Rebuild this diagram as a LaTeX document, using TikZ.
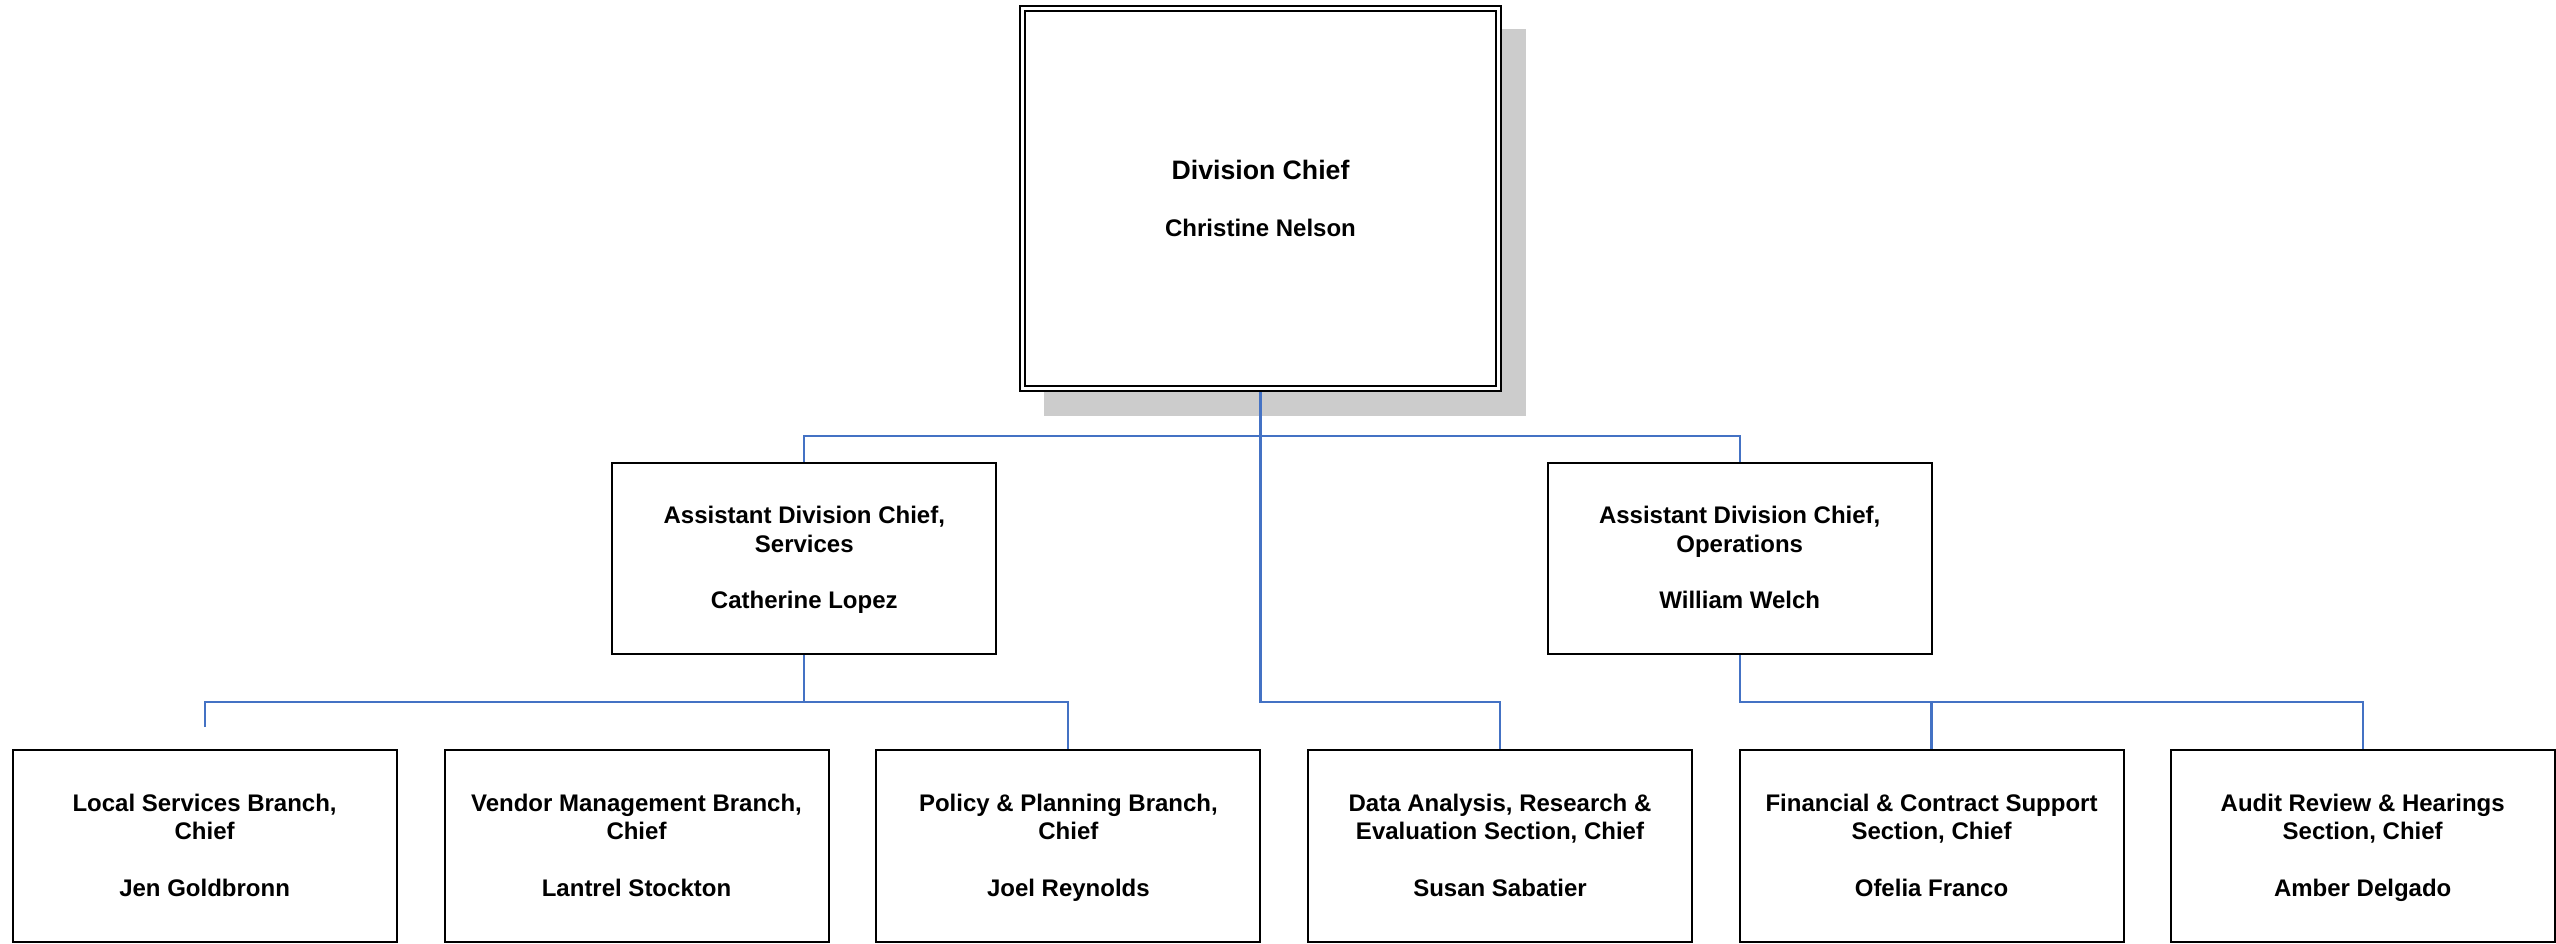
\documentclass[tikz,border=0pt]{standalone}
\usepackage{fontspec}
\setmainfont{Liberation Sans}
\usetikzlibrary{backgrounds}
\definecolor{conn}{RGB}{68,114,196}
\definecolor{shgray}{RGB}{204,204,204}
\newcommand{\lastln}{\vphantom{g}}
\newcommand{\firstln}{\rule{0pt}{15.6pt}}
\begin{document}
\begin{tikzpicture}[x=0.75pt,y=-0.75pt,
  box/.style={draw=black, line width=1.5pt, fill=white, inner sep=0pt, outer sep=0pt,
    align=center, font=\bfseries\fontsize{18}{21.2}\selectfont,
    minimum width=288pt, minimum height=144pt},
  midbox/.style={box, minimum height=143.25pt},
  topbox/.style={box, double=white, double distance=2.25pt,
    minimum width=356.6pt, minimum height=284.8pt},
  link/.style={draw=conn, line width=1.6pt}]
\useasboundingbox (0,0) rectangle (2556,944);

% nodes
\node[topbox] (top) at (1260.5,198.4)
  {{\fontsize{20}{21.6}\selectfont Division Chief}\\[21.7pt]Christine Nelson};
\node[midbox] (svc) at (804.3,558.4)
  {\firstln Assistant Division Chief,\\Services\\[21.2pt]Catherine Lopez\lastln};
\node[midbox] (ops) at (1739.7,558.4)
  {\firstln Assistant Division Chief,\\Operations\\[21.2pt]William Welch\lastln};

\node[box] (local)  at (204.6,846.2)  {\firstln Local Services Branch,\\Chief\\[21.2pt]Jen Goldbronn\lastln};
\node[box] (vendor) at (636.5,846.2)  {\firstln Vendor Management Branch,\\Chief\\[21.2pt]Lantrel Stockton\lastln};
\node[box] (policy) at (1068.4,846.2) {\firstln Policy \& Planning Branch,\\Chief\\[21.2pt]Joel Reynolds\lastln};
\node[box] (data)   at (1500.0,846.2) {\firstln Data Analysis, Research \&\\Evaluation Section, Chief\\[21.2pt]Susan Sabatier\lastln};
\node[box] (fin)    at (1931.5,846.2) {\firstln Financial \& Contract Support\\Section, Chief\\[21.2pt]Ofelia Franco\lastln};
\node[box] (audit)  at (2362.7,846.2) {\firstln Audit Review \& Hearings\\Section, Chief\\[21.2pt]Amber Delgado\lastln};

\coordinate (busA) at (0,436);
\coordinate (busB) at (0,702);
\coordinate (lstub) at (204.6,727);

\begin{scope}[on background layer]
  % shadow of the top box
  \fill[shgray] (1043.6,29.3) rectangle (1526,415.7);
  % level 1
  \draw[link] (svc.north) -- (svc.north |- busA) -- (ops.north |- busA) -- (ops.north);
  \draw[link] (top.south) -- (top.south |- busB) -| (data.north);
  % services group
  \draw[link] (svc.south) -- (svc.south |- busB);
  \draw[link] (lstub) -- (local.north |- busB) -- (policy.north |- busB) -- (policy.north);
  % operations group
  \draw[link] (ops.south) -- (ops.south |- busB) -- (audit.north |- busB) -- (audit.north);
  \draw[link] (fin.north |- busB) -- (fin.north);
\end{scope}
\end{tikzpicture}
\end{document}
